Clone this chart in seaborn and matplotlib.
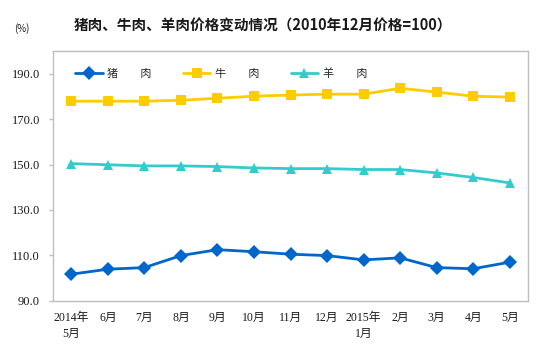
import pandas as pd
import matplotlib.pyplot as plt
import seaborn as sns

sns.set_theme(style='white')
plt.rcParams['font.family'] = ['Liberation Serif', 'Noto Sans CJK SC', 'DejaVu Sans']

months = ['2014年\n5月', '6月', '7月', '8月', '9月', '10月', '11月', '12月',
          '2015年\n1月', '2月', '3月', '4月', '5月']
pork = [101.7, 103.9, 104.6, 109.9, 112.5, 111.6, 110.5, 109.9, 108.0, 108.9, 104.6, 104.1, 107.0]
beef = [177.9, 177.9, 177.9, 178.3, 179.2, 180.1, 180.6, 181.0, 181.0, 183.6, 181.9, 180.1, 179.7]
mutton = [150.4, 149.9, 149.4, 149.4, 149.1, 148.5, 148.2, 148.2, 147.8, 147.8, 146.3, 144.3, 141.9]
series_names = ['猪\u3000\u3000肉', '牛\u3000\u3000肉', '羊\u3000\u3000肉']
colors = ['#0066CC', '#FFCC00', '#33CCCC']
markers = ['D', 's', '^']

rows = []
for name, vals in zip(series_names, [pork, beef, mutton]):
    for i, v in enumerate(vals):
        rows.append({'pos': i, 'value': v, 'meat': name})
df = pd.DataFrame(rows)

fig = plt.figure(figsize=(5.47, 3.53), dpi=100)
ax = fig.add_axes([0.0969, 0.148, 0.8684, 0.7075])

sns.lineplot(data=df, x='pos', y='value', hue='meat', style='meat',
             palette=colors, markers=markers, dashes=False, linewidth=2,
             markersize=7, markeredgewidth=0, ax=ax, legend=False)

ax.set_xlim(-0.5, 12.5)
ax.set_ylim(90, 200)
ax.set_yticks([90, 110, 130, 150, 170, 190])
ax.set_yticklabels([f'{v:.1f}' for v in [90, 110, 130, 150, 170, 190]])
ax.set_xticks(range(len(months)))
ax.set_xticklabels(months, linespacing=1.5)
ax.set_xlabel('')
ax.set_ylabel('')
ax.tick_params(axis='y', which='major', left=True, length=3, width=1,
               color='#BFBFBF', pad=6.5, labelsize=9, labelcolor='#1a1a1a')
ax.tick_params(axis='x', length=0, pad=8, labelsize=8.5, labelcolor='#1a1a1a')
for s in ax.spines.values():
    s.set_color('#BFBFBF')
    s.set_linewidth(1)

handles = [plt.Line2D([], [], color=c, marker=m, markersize=7, markeredgewidth=0, linewidth=2)
           for c, m in zip(colors, markers)]
leg = ax.legend(handles, series_names, ncol=3, frameon=False, loc='center left',
                bbox_to_anchor=(0.046, 0.908), borderaxespad=0, borderpad=0,
                handlelength=2.5, handletextpad=0.4, columnspacing=2.8,
                prop={'family': ['Noto Sans CJK SC'], 'size': 8})

fig.text(0.48, 0.929, '猪肉、牛肉、羊肉价格变动情况（2010年12月价格=100）',
         ha='center', va='center', fontsize=10.5, fontweight='bold',
         family=['Noto Sans CJK SC', 'DejaVu Sans'], color='#1a1a1a')
fig.text(0.04, 0.918, '(%)', ha='center', va='center', fontsize=7,
         family=['Noto Sans CJK SC', 'DejaVu Sans'], color='#1a1a1a')

fig.savefig('out.png', dpi=100, facecolor='white')
